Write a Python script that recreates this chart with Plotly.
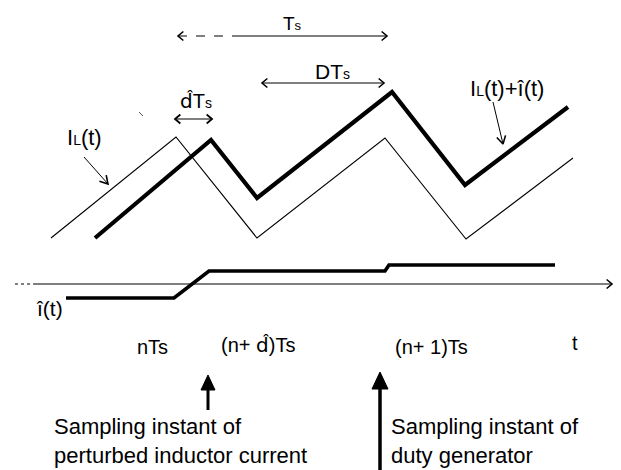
import math
import plotly.graph_objects as go

W, H = 621, 470
FONT = "Liberation Sans, Arial, sans-serif"

# ---- waveform vertices (time position, current level) in drawing units ----
il_t = [51, 176, 257, 385, 466, 573]          # I_L(t) steady-state ripple
il_i = [238, 137, 238, 138, 239, 158]
ilp_t = [95, 211, 257, 392, 465, 568]         # I_L(t) + i^(t) perturbed
ilp_i = [238, 140, 198, 92, 185, 107]
ihat_t = [66, 174, 209, 385, 389, 555]        # i^(t) perturbation
ihat_i = [298, 298, 271, 271, 265, 265]

axis_level = 284
axis_t = [34, 612]
axis_dotted_t = [15, 34]

# interval markers: (start, end, level)
ts_span = (178, 387, 36)
dts_span = (262, 384, 83)
dhat_span = (175, 212, 119)

fig = go.Figure()


def line(xs, ys, w=1.0, color="black", dash="solid"):
    fig.add_trace(go.Scatter(x=xs, y=ys, mode="lines",
                             line=dict(color=color, width=w, dash=dash),
                             hoverinfo="skip", showlegend=False))


def vhead(xt, yt, xf, yf, L=8.0, ang=32, w=1.2):
    dx, dy = xt - xf, yt - yf
    n = math.hypot(dx, dy)
    ux, uy = dx / n, dy / n
    pts = []
    for s in (1, -1):
        a = math.radians(ang) * s
        bx = -ux * math.cos(a) + uy * math.sin(a)
        by = -uy * math.cos(a) - ux * math.sin(a)
        pts.append((xt + L * bx, yt + L * by))
    line([pts[0][0], xt, pts[1][0]], [pts[0][1], yt, pts[1][1]], w=w)


def filled_up_arrow(x, tip, bottom, hw=6, hh=15, w=3):
    line([x, x], [tip + hh - 2, bottom], w=w)
    fig.add_trace(go.Scatter(x=[x - hw, x, x + hw, x - hw],
                             y=[tip + hh, tip, tip + hh, tip + hh],
                             mode="lines", fill="toself", fillcolor="black",
                             line=dict(color="black", width=1),
                             hoverinfo="skip", showlegend=False))


# waveforms
line(il_t, il_i, w=1.1)
line(ilp_t, ilp_i, w=4.2)
line(ihat_t, ihat_i, w=3.6)

# time axis
line(axis_dotted_t, [axis_level, axis_level], w=1, dash="dot")
line(axis_t, [axis_level, axis_level], w=1.2)
vhead(axis_t[1], axis_level, axis_t[0], axis_level, L=7, ang=40, w=1.6)

# Ts marker (dashed on the left, solid on the right)
a, b, y = ts_span
line([a, a + 55], [y, y], w=1, dash="dash")
line([a + 55, b], [y, y], w=1.2)
vhead(a, y, b, y, L=7, ang=40, w=1.6)
vhead(b, y, a, y, L=7, ang=40, w=1.6)

# DTs marker
a, b, y = dts_span
line([a, b], [y, y], w=1)
vhead(a, y, b, y, L=7, ang=40, w=1.6)
vhead(b, y, a, y, L=7, ang=40, w=1.6)

# d^Ts marker
a, b, y = dhat_span
line([a, b], [y, y], w=1.2)
vhead(a, y, b, y, L=7, ang=40, w=1.8)
vhead(b, y, a, y, L=7, ang=40, w=1.8)

# pointer arrows to waveforms
line([84, 108], [157, 184], w=1)
vhead(108, 184, 84, 157, L=9, ang=30, w=1.6)
line([493, 503], [102, 144], w=1)
vhead(503, 144, 493, 102, L=9, ang=30, w=1.6)

# small scan mark
line([139, 143], [112, 116], w=1, color="#555")

# sampling-instant arrows
filled_up_arrow(208, 375, 410, hw=7, hh=15, w=3)
filled_up_arrow(380, 372, 470, hw=8, hh=17, w=3.5)

sm = "font-size:14px"
dhat = "<span style='font-family:DejaVu Sans'>d\u0302</span>"
texts = [
    ("T<span style='font-size:13px'>s</span>", 292, 23, 19),
    ("DT<span style='%s'>s</span>" % sm, 332, 71, 21),
    (dhat + "T<span style='%s'>s</span>" % sm, 196, 101, 20),
    ("I<span style='%s'>L</span>(t)" % sm, 84, 137, 22),
    ("I<span style='%s'>L</span>(t)+\u00ee(t)" % sm, 507, 88, 22),
    ("\u00ee(t)", 49, 308, 21),
    ("nTs", 152, 347, 20),
    ("(n+ " + dhat + ")Ts", 258, 345, 20),
    ("(n+ 1)Ts", 431, 347, 20),
    ("t", 575, 343, 20),
]
for txt, x, y, s in texts:
    fig.add_annotation(x=x, y=y, text=txt, showarrow=False,
                       xanchor="center", yanchor="middle",
                       font=dict(family=FONT, size=s, color="black"))

blocks = [
    ("Sampling instant of<br>perturbed inductor current", 52, 441),
    ("Sampling instant of<br>duty generator", 389, 441),
]
for txt, x, y in blocks:
    fig.add_annotation(x=x, y=y, text=txt, showarrow=False, align="left",
                       xanchor="left", yanchor="middle",
                       font=dict(family=FONT, size=22, color="black"))

fig.update_xaxes(range=[0, W], visible=False, fixedrange=True)
fig.update_yaxes(range=[H, 0], visible=False, fixedrange=True)
fig.update_layout(width=W, height=H, margin=dict(l=0, r=0, t=0, b=0),
                  plot_bgcolor="white", paper_bgcolor="white")

fig.write_html("out.html")
